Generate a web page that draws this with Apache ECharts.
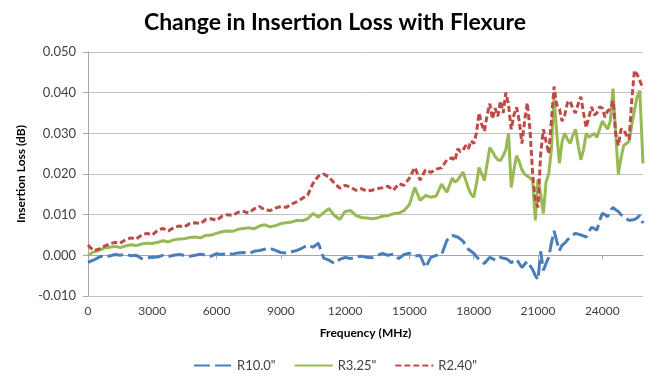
<!DOCTYPE html>
<html><head><meta charset="utf-8">
<script src="https://cdn.jsdelivr.net/npm/echarts@6/dist/echarts.min.js"></script>
<style>html,body{margin:0;padding:0;background:#fff}#c{width:670px;height:381px}</style>
</head><body><div id="c"></div>
<script>
const freq = [0,250,500,750,1000,1250,1500,1750,2000,2250,2500,2750,3000,3250,3500,3750,4000,4250,4500,4750,5000,5250,5500,5750,6000,6250,6500,6750,7000,7250,7500,7750,8000,8250,8500,8750,9000,9250,9500,9750,10000,10250,10500,10750,11000,11250,11500,11750,12000,12250,12500,12750,13000,13250,13500,13750,14000,14250,14500,14750,15000,15250,15500,15750,16000,16250,16500,16750,
17000,17125,17250,17375,17500,17625,17750,17875,18000,18125,18250,18375,18500,18625,18750,18875,19000,19125,19250,19375,19500,19625,19750,19875,20000,20125,20250,20375,20500,20625,20750,20875,21000,21125,21250,21375,21500,21625,21750,21875,22000,22125,22250,22375,22500,22625,22750,22875,23000,23125,23250,23375,23500,23625,23750,23875,24000,24125,24250,24375,24500,24625,24750,24875,25000,25125,25250,25375,25500,25625,25750,25900];
const r10 = [-0.0017,-0.0012,-0.0005,0.0000,-0.0002,0.0002,0.0000,0.0003,-0.0001,0.0000,-0.0008,-0.0006,-0.0005,-0.0004,0.0000,-0.0003,0.0000,0.0002,0.0000,-0.0002,0.0000,0.0003,0.0000,-0.0002,0.0004,0.0002,0.0005,0.0003,0.0006,0.0007,0.0004,0.0010,0.0012,0.0015,0.0017,0.0012,0.0007,0.0006,0.0009,0.0012,0.0018,0.0025,0.0020,0.0030,-0.0007,-0.0012,-0.0020,-0.0010,-0.0005,-0.0008,-0.0004,-0.0002,-0.0005,-0.0006,0.0000,0.0005,0.0000,0.0003,-0.0008,0.0002,0.0005,-0.0002,0.0000,-0.0030,-0.0005,0.0000,0.0002,0.0037,
0.0049,0.0047,0.0045,0.0040,0.0035,0.0025,0.0015,0.0010,0.0005,-0.0003,-0.0010,-0.0015,-0.0020,-0.0012,-0.0005,-0.0008,-0.0012,-0.0008,-0.0005,-0.0007,-0.0008,-0.0012,-0.0018,-0.0014,-0.0010,-0.0020,-0.0030,-0.0022,-0.0015,-0.0025,-0.0035,-0.0050,-0.0060,0.0010,-0.0037,-0.0020,-0.0005,0.0030,0.0060,0.0035,0.0012,0.0025,0.0030,0.0038,0.0044,0.0050,0.0054,0.0052,0.0050,0.0048,0.0045,0.0058,0.0069,0.0066,0.0062,0.0085,0.0103,0.0100,0.0095,0.0110,0.0118,0.0112,0.0108,0.0100,0.0095,0.0090,0.0086,0.0087,0.0088,0.0092,0.0098,0.0079];
const r325 = [0.0000,0.0008,0.0012,0.0018,0.0020,0.0022,0.0019,0.0023,0.0026,0.0024,0.0028,0.0030,0.0029,0.0032,0.0036,0.0033,0.0038,0.0040,0.0041,0.0044,0.0045,0.0043,0.0049,0.0050,0.0054,0.0058,0.0060,0.0059,0.0064,0.0066,0.0068,0.0065,0.0072,0.0075,0.0070,0.0073,0.0078,0.0080,0.0082,0.0086,0.0085,0.0090,0.0103,0.0094,0.0105,0.0115,0.0098,0.0088,0.0108,0.0110,0.0098,0.0093,0.0092,0.0090,0.0092,0.0096,0.0098,0.0102,0.0104,0.0110,0.0125,0.0167,0.0135,0.0147,0.0143,0.0146,0.0175,0.0155,
0.0190,0.0180,0.0185,0.0195,0.0205,0.0185,0.0165,0.0150,0.0143,0.0175,0.0216,0.0200,0.0184,0.0225,0.0265,0.0255,0.0243,0.0235,0.0233,0.0245,0.0260,0.0300,0.0167,0.0210,0.0245,0.0230,0.0210,0.0200,0.0195,0.0190,0.0184,0.0086,0.0187,0.0150,0.0103,0.0180,0.0200,0.0260,0.0390,0.0300,0.0226,0.0280,0.0300,0.0285,0.0275,0.0295,0.0310,0.0270,0.0235,0.0260,0.0300,0.0290,0.0295,0.0300,0.0290,0.0310,0.0330,0.0320,0.0310,0.0330,0.0410,0.0300,0.0200,0.0240,0.0270,0.0275,0.0280,0.0320,0.0356,0.0390,0.0405,0.0226];
const r240 = [0.0025,0.0012,0.0015,0.0022,0.0028,0.0032,0.0030,0.0038,0.0043,0.0040,0.0050,0.0054,0.0050,0.0062,0.0066,0.0060,0.0068,0.0072,0.0070,0.0078,0.0080,0.0078,0.0088,0.0090,0.0086,0.0096,0.0100,0.0098,0.0106,0.0108,0.0104,0.0114,0.0120,0.0112,0.0110,0.0116,0.0120,0.0118,0.0126,0.0132,0.0140,0.0148,0.0177,0.0195,0.0200,0.0192,0.0177,0.0165,0.0172,0.0168,0.0160,0.0164,0.0158,0.0160,0.0164,0.0166,0.0170,0.0160,0.0176,0.0172,0.0190,0.0216,0.0185,0.0210,0.0204,0.0212,0.0215,0.0235,
0.0240,0.0232,0.0262,0.0255,0.0258,0.0270,0.0262,0.0282,0.0275,0.0300,0.0350,0.0322,0.0305,0.0345,0.0373,0.0335,0.0362,0.0342,0.0380,0.0350,0.0400,0.0370,0.0310,0.0345,0.0364,0.0330,0.0275,0.0330,0.0375,0.0310,0.0200,0.0135,0.0118,0.0250,0.0310,0.0280,0.0250,0.0330,0.0415,0.0370,0.0360,0.0330,0.0345,0.0375,0.0380,0.0360,0.0350,0.0372,0.0390,0.0350,0.0314,0.0340,0.0365,0.0345,0.0350,0.0365,0.0362,0.0340,0.0355,0.0360,0.0380,0.0300,0.0270,0.0310,0.0310,0.0295,0.0285,0.0380,0.0455,0.0445,0.0430,0.0410];
const xTicks = [0,3000,6000,9000,12000,15000,18000,21000,24000];
const seriesNames = ['R10.0"','R3.25"','R2.40"'];

const pair = a => freq.map((f,i)=>[f,a[i]]);
const font = 'Lato, "Open Sans", sans-serif';
const chart = echarts.init(document.getElementById('c'));
chart.setOption({
  animation:false,
  textStyle:{fontFamily:font},
  title:{text:'Change in Insertion Loss with Flexure',left:'center',top:6,
    textStyle:{fontFamily:font,fontSize:23,fontWeight:'bold',color:'#000'}},
  grid:{left:88,right:27,top:52,bottom:85},
  legend:{bottom:4,left:'center',itemWidth:38,itemHeight:12,itemGap:18,
    itemStyle:{opacity:0},
    textStyle:{fontFamily:font,fontSize:13,color:'#404040'},
    data:seriesNames},
  xAxis:{type:'value',min:0,max:25900,interval:3000,
    name:'Frequency (MHz)',nameLocation:'middle',nameGap:31,
    nameTextStyle:{fontFamily:font,fontSize:12,fontWeight:'bold',color:'#000'},
    axisLine:{lineStyle:{color:'#a6a6a6'}},
    axisTick:{show:true,length:4,lineStyle:{color:'#a6a6a6'},customValues:xTicks},
    axisLabel:{customValues:xTicks,formatter:v=>String(v),color:'#404040',fontSize:12,margin:9,fontFamily:font},
    splitLine:{show:false}},
  yAxis:{type:'value',min:-0.01,max:0.05,interval:0.01,
    name:'Insertion Loss (dB)',nameLocation:'middle',nameGap:47,
    nameTextStyle:{fontFamily:font,fontSize:12,fontWeight:'bold',color:'#000'},
    axisLine:{show:true,lineStyle:{color:'#a6a6a6'}},
    axisTick:{show:true,length:5,lineStyle:{color:'#a6a6a6'}},
    axisLabel:{formatter:v=>v.toFixed(3),color:'#404040',fontSize:13,margin:12,fontFamily:font},
    splitLine:{lineStyle:{color:'#bfbfbf',width:1}}},
  series:[
    {name:seriesNames[0],type:'line',data:pair(r10),symbol:'none',z:3,
      lineStyle:{color:'#4a7ebb',width:3,type:[16,5]},itemStyle:{color:'#4a7ebb'}},
    {name:seriesNames[1],type:'line',data:pair(r325),symbol:'none',z:4,
      lineStyle:{color:'#98b954',width:3,type:'solid'},itemStyle:{color:'#98b954'}},
    {name:seriesNames[2],type:'line',data:pair(r240),symbol:'none',z:5,
      lineStyle:{color:'#be4b48',width:3,type:[6,3]},itemStyle:{color:'#be4b48'}}
  ]
});
</script></body></html>
